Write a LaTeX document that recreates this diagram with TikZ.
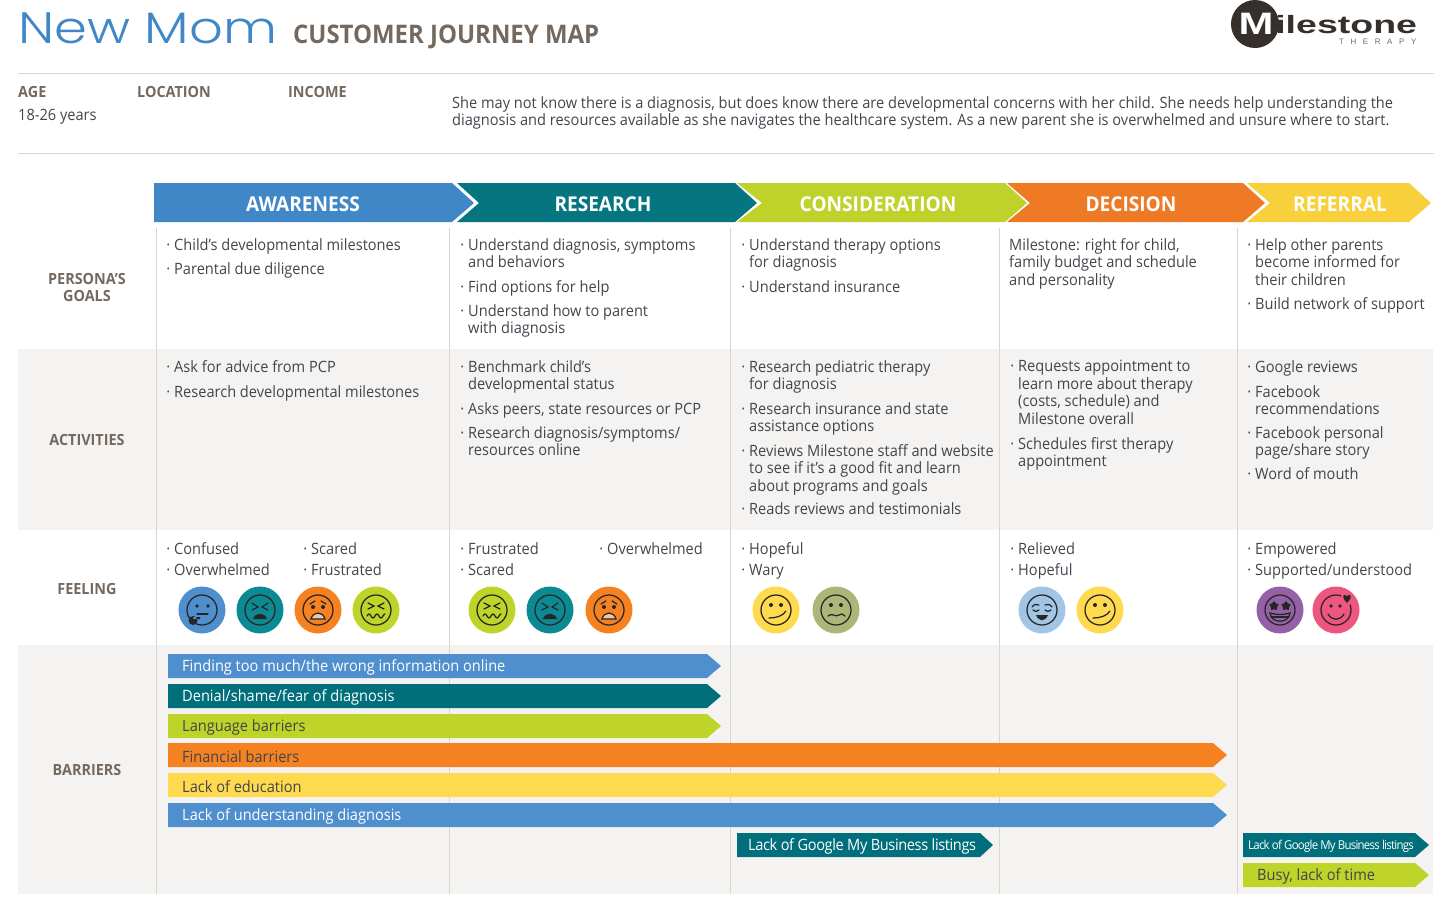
\documentclass[tikz,border=0pt]{standalone}
\usepackage{fontspec}
\setmainfont[FakeStretch=0.935]{Open Sans}
\newfontfamily\titlefont[FakeStretch=1.2]{Poppins Light}
\newfontfamily\logofont{Liberation Sans}
\usetikzlibrary{shapes.geometric}

\tikzset{
    bodytext/.style={anchor=north west, inner sep=0pt, align=left, text=bodyColour, yshift=-1pt,
        font=\fontsize{15.6}{17.5}\selectfont, execute at begin node=\strut},
    rowlabel/.style={inner sep=0pt, align=center, text=labelColour,
        font=\fontsize{15.4}{17}\selectfont\bfseries},
    infolabel/.style={anchor=base west, inner sep=0pt, text=labelColour,
        font=\fontsize{15.4}{17}\selectfont\bfseries},
    stagelabel/.style={inner sep=0pt, text=white, font=\fontsize{20.4}{22}\selectfont\bfseries},
    bartext/.style={anchor=west, inner sep=0pt, yshift=-1.2pt, font=\fontsize{15.6}{17.5}\selectfont},
    feature/.style={line width=1.25pt, draw=black!85, line cap=round},
    thinkFace/.pic={
        \draw[feature] (0,0) circle (15);
        \fill[black!85] (-5,-4) circle (1.8) (6,-4) circle (1.8);
        \draw[feature] (-5,4) -- (6,4);
        \fill[black!85] (-9,10.5) circle (4.5) (-9,7) rectangle (-2,9);
    },
    tiredFace/.pic={
        \draw[feature] (0,0) circle (15);
        \draw[feature] (-8,-7) -- (-2,-3) -- (-8,0) (8,-7) -- (2,-3) -- (8,0);
        \fill[black!85] (-7,9) .. controls (-5,2) and (5,2) .. (7,9) -- cycle;
    },
    scaredFace/.pic={
        \draw[feature] (0,0) circle (15);
        \draw[feature] (-8,-6) -- (-3,-9) (8,-6) -- (3,-9);
        \fill[black!85] (-5,-3) circle (2) (5,-3) circle (2);
        \draw[feature, fill=faceGrey] (-7,9) .. controls (-5,1) and (5,1) .. (7,9) -- cycle;
    },
    queasyFace/.pic={
        \draw[feature] (0,0) circle (15);
        \draw[feature] (-8,-7) -- (-2,-4) -- (-8,-1) (8,-7) -- (2,-4) -- (8,-1);
        \draw[feature] (-9,6) sin (-7,4) cos (-5,6) sin (-3,8) cos (-1,6) sin (1,4) cos (3,6) sin (5,8) cos (7,6) sin (9,4);
    },
    smirkFace/.pic={
        \draw[feature] (0,0) circle (15);
        \fill[black!85] (-5,-5) circle (2) (5,-5) circle (2);
        \draw[feature] (-7,8) .. controls (0,8) and (7,6) .. (10,1);
    },
    waryFace/.pic={
        \draw[feature] (0,0) circle (15);
        \fill[black!85] (-5,-5) circle (2) (5,-5) circle (2);
        \draw[feature] (-8,6) .. controls (-4,2) and (0,8) .. (3,5) .. controls (5,3) and (7,4) .. (9,6);
    },
    calmFace/.pic={
        \draw[feature] (0,0) circle (15);
        \draw[feature] (-10,-3) .. controls (-8,-6) and (-5,-6) .. (-3,-5) (10,-3) .. controls (8,-6) and (5,-6) .. (3,-5);
        \draw[feature] (-9,0) .. controls (-7,2) and (-5,2) .. (-3,0) (9,0) .. controls (7,2) and (5,2) .. (3,0);
        \fill[black!85] (-6,5) .. controls (-3,12) and (3,12) .. (6,5) -- cycle;
    },
    starFace/.pic={
        \draw[feature] (0,0) circle (15);
        \node[star, fill=black!85, inner sep=0pt, minimum size=10pt] (-starL) at (-6,-4) {};
        \node[star, fill=black!85, inner sep=0pt, minimum size=10pt] (-starR) at (6,-4) {};
        \draw[feature] (-10,3) .. controls (-4,5) and (4,5) .. (10,3) .. controls (9,14) and (-9,14) .. (-10,3) -- cycle;
        \draw[feature] (-9,7) -- (9,7);
    },
    loveFace/.pic={
        \draw[feature] (0,0) circle (15);
        \fill[faceBack] (11,-11) circle (6.5);
        \fill[black!85] (-5,-4) circle (1.8) (4,-4) circle (1.8);
        \draw[feature] (-8,4) .. controls (-4,11) and (4,11) .. (8,4);
        \fill[black!85] (11,-7) .. controls (7,-11) and (6,-15) .. (9,-15) .. controls (10,-15) and (11,-14) .. (11,-13)
            .. controls (11,-14) and (12,-15) .. (13,-15) .. controls (16,-15) and (15,-11) .. (11,-7) -- cycle;
    }
}

\begin{document}
\begin{tikzpicture}[x=1pt, y=-1pt]
    \definecolor{bodyColour}{HTML}{40464C}
    \definecolor{labelColour}{HTML}{75695F}
    \definecolor{ruleColour}{HTML}{D8D6D0}
    \definecolor{bandColour}{HTML}{F4F3F2}
    \definecolor{inkColour}{HTML}{35302C}
    \definecolor{titleColour}{HTML}{3F87C7}
    % Stage colours
    \definecolor{stageBlue}{HTML}{3F87C7}
    \definecolor{stageTeal}{HTML}{05757F}
    \definecolor{stageLime}{HTML}{BFD22B}
    \definecolor{stageOrange}{HTML}{EE7A25}
    \definecolor{stageYellow}{HTML}{F8D03C}
    % Bar colours
    \definecolor{barBlue}{HTML}{4F8FCE}
    \definecolor{barTeal}{HTML}{006F7B}
    \definecolor{barLime}{HTML}{BED428}
    \definecolor{barOrange}{HTML}{F68121}
    \definecolor{barYellow}{HTML}{FFD94E}
    % Face colours
    \definecolor{faceTeal}{HTML}{0C8A94}
    \definecolor{faceSage}{HTML}{ADB678}
    \definecolor{faceSky}{HTML}{A2C4E5}
    \definecolor{facePurple}{HTML}{9660A8}
    \definecolor{facePink}{HTML}{EE5680}
    \definecolor{faceGrey}{HTML}{E8C9A8}

    \useasboundingbox (0,0) rectangle (1438,900);
    \def\bandLeft{18}
    \def\bandRight{1433}

    % Draw bands and rules
    \fill[bandColour] (\bandLeft,349) rectangle (\bandRight,530);
    \fill[bandColour] (\bandLeft,645) rectangle (\bandRight,894);
    \draw[ruleColour, line width=1pt] (18,73) -- (1434,73);
    \draw[ruleColour, line width=1pt] (18,153) -- (1434,153);
    \foreach \x in {156,449.5,730.5,999,1237}
        \draw[ruleColour, line width=1pt] (\x,228) -- (\x,894);

    % Title
    \node[anchor=base west, inner sep=0pt, text=titleColour, font=\fontsize{44}{44}\selectfont\titlefont] (title) at (18,43) {New Mom};
    \node[anchor=base west, inner sep=0pt, text=labelColour, font=\fontsize{25.6}{26}\selectfont\bfseries] (subtitle) at (293,43) {CUSTOMER JOURNEY MAP};

    % Logo
    \fill[inkColour] (1255,24) circle (24);
    \node[inner sep=0pt, text=white, transform shape, xscale=1.35, font=\fontsize{31}{31}\selectfont\logofont\bfseries] (logoM) at (1256,24) {M};
    \node[anchor=base west, inner sep=0pt, text=inkColour, transform shape, xscale=1.5, font=\fontsize{25}{25}\selectfont\logofont\bfseries] (logoName) at (1275,33) {ilestone};
    \node[anchor=base west, inner sep=0pt, text=labelColour, font=\fontsize{8}{8}\selectfont\logofont\addfontfeature{LetterSpace=82}] (logoSub) at (1339,44) {THERAPY};

    % Persona
    \node[infolabel] (age) at (18,97) {AGE};
    \node[infolabel] (location) at (137,97) {LOCATION};
    \node[infolabel] (income) at (288,97) {INCOME};
    \node[bodytext] (ageValue) at (18,107) {18-26 years};
    \node[bodytext] (persona) at (452,95) {She may not know there is a diagnosis, but does know there are developmental concerns with her child. She needs help understanding the\\diagnosis and resources available as she navigates the healthcare system. As a new parent she is overwhelmed and unsure where to start.};

    % Stage arrows
    \foreach \a/\n/\b/\c/\m/\txt [count=\i] in {
        154/154/452/stageBlue/303/AWARENESS,
        457/479/735/stageTeal/603/RESEARCH,
        737/762/1005/stageLime/878/CONSIDERATION,
        1007/1030/1243/stageOrange/1131/DECISION,
        1247/1270/1409/stageYellow/1340/REFERRAL}
    {
        \fill[\c] (\a,183) -- (\b,183) -- (\b+22,203) -- (\b,222) -- (\a,222) -- (\n,203) -- cycle;
        \node[stagelabel] (stage\i) at (\m,204) {\txt};
    }

    % Row labels
    \node[rowlabel] (goals) at (87,287.5) {PERSONA’S\\GOALS};
    \node[rowlabel] (activities) at (87,439.5) {ACTIVITIES};
    \node[rowlabel] (feeling) at (87,588.5) {FEELING};
    \node[rowlabel] (barriers) at (87,769.5) {BARRIERS};

    % List items
    \def\dotted{\llap{·\hspace{4pt}}}
    \foreach \x/\y/\txt [count=\i] in {
        174/245/{Child’s developmental milestones},
        174/269/{Parental due diligence},
        468/245/{Understand diagnosis, symptoms\\ and behaviors},
        468/287/{Find options for help},
        468/311/{Understand how to parent\\ with diagnosis},
        749/245/{Understand therapy options\\ for diagnosis},
        749/287/{Understand insurance},
        1255/245/{Help other parents\\ become informed for\\ their children},
        1255/304/{Build network of support},
        174/367/{Ask for advice from PCP},
        174/392/{Research developmental milestones},
        468/367/{Benchmark child’s\\ developmental status},
        468/409/{Asks peers, state resources or PCP},
        468/433/{Research diagnosis/symptoms/\\ resources online},
        749/367/{Research pediatric therapy\\ for diagnosis},
        749/409/{Research insurance and state\\ assistance options},
        749/451/{Reviews Milestone staff and website\\ to see if it’s a good fit and learn\\ about programs and goals},
        749/509/{Reads reviews and testimonials},
        1018/367/{Requests appointment to\\ learn more about therapy\\ (costs, schedule) and\\ Milestone overall},
        1018/444/{Schedules first therapy\\ appointment},
        1255/367/{Google reviews},
        1255/392/{Facebook\\ recommendations},
        1255/433/{Facebook personal\\ page/share story},
        1255/474/{Word of mouth},
        174/549/{Confused}, 174/569.5/{Overwhelmed}, 311/549/{Scared}, 311/569.5/{Frustrated},
        468/549/{Frustrated}, 468/569.5/{Scared}, 607/549/{Overwhelmed},
        749/549/{Hopeful}, 749/569.5/{Wary},
        1018/549/{Relieved}, 1018/569.5/{Hopeful},
        1255/549/{Empowered}, 1255/569.5/{Supported/understood}}
        \node[bodytext] (item\i) at (\x,\y-7.7) {\dotted\txt};
    \node[bodytext] (milestone) at (1009,237.3) {Milestone: right for child,\\family budget and schedule\\and personality};

    % Faces
    \foreach \x/\c/\f [count=\i] in {
        202/barBlue/thinkFace, 260/faceTeal/tiredFace, 318/barOrange/scaredFace, 376/barLime/queasyFace,
        492/barLime/queasyFace, 550/faceTeal/tiredFace, 609/barOrange/scaredFace,
        776/barYellow/smirkFace, 836/faceSage/waryFace,
        1042/faceSky/calmFace, 1100/barYellow/smirkFace,
        1280/facePurple/starFace, 1336/facePink/loveFace}
    {
        \colorlet{faceBack}{\c}
        \fill[\c] (\x,610) circle (23.5);
        \pic (face\i) at (\x,610) {\f};
    }

    % Barrier arrows
    \foreach \a/\b/\y/\c/\t/\txt [count=\i] in {
        168/707/666/barBlue/white/{Finding too much/the wrong information online},
        168/707/696/barTeal/white/{Denial/shame/fear of diagnosis},
        168/707/726/barLime/bodyColour/{Language barriers},
        168/1213/755/barOrange/bodyColour/{Financial barriers},
        168/1213/785/barYellow/bodyColour/{Lack of education},
        168/1213/815/barBlue/white/{Lack of understanding diagnosis}}
    {
        \fill[\c] (\a,\y-12) -- (\b,\y-12) -- (\b+14,\y) -- (\b,\y+12) -- (\a,\y+12) -- cycle;
        \node[bartext, text=\t] (barrier\i) at (182,\y) {\txt};
    }
    \fill[barTeal] (737,833) -- (980,833) -- (993,845) -- (980,857) -- (737,857) -- cycle;
    \node[bartext, text=white, font=\fontsize{15.6}{17.5}\selectfont\addfontfeature{LetterSpace=-2.4}] (barrier7) at (748,845) {Lack of Google My Business listings};
    \fill[barTeal] (1243,833) -- (1415,833) -- (1429,845) -- (1415,857) -- (1243,857) -- cycle;
    \node[bartext, text=white, font=\fontsize{12.2}{14}\selectfont\addfontfeature{LetterSpace=-6}] (barrier8) at (1248,845) {Lack of Google My Business listings};
    \fill[barLime] (1243,863) -- (1415,863) -- (1429,875) -- (1415,887) -- (1243,887) -- cycle;
    \node[bartext, text=bodyColour] (barrier9) at (1257,875) {Busy, lack of time};
\end{tikzpicture}
\end{document}
